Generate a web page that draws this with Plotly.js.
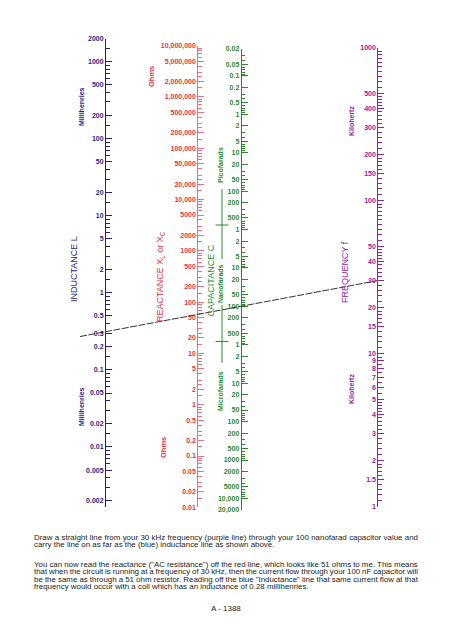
<!DOCTYPE html>
<html>
<head>
<meta charset="utf-8">
<script src="https://cdn.plot.ly/plotly-3.0.1.min.js"></script>
<style>
html,body{margin:0;padding:0;background:#fff;}
#wrap{position:relative;width:452px;height:640px;}
#chart{position:absolute;left:0;top:0;width:452px;height:640px;}
.para{position:absolute;left:34px;width:384px;font-family:Arial,"Liberation Sans",sans-serif;font-size:7.9px;line-height:7.5px;color:#222;}
.ln{display:block;white-space:nowrap;text-align:justify;text-align-last:justify;overflow:visible;}
.ln.last{text-align-last:left;}
.ln .jw{display:flex;justify-content:space-between;}
</style>
</head>
<body>
<div id="wrap"><div id="chart"></div></div>
<script>
// ---------------- DATA ----------------
const inductanceTicks = [2000,1000,500,200,100,50,20,10,5,2,1,0.5,0.3,0.2,0.1,0.05,0.02,0.01,0.005,0.002];
const inductanceLabels = ['2000','1000','500','200','100','50','20','10','5','2','1','0.5','0.3','0.2','0.1','0.05','0.02','0.01','0.005','0.002'];

const reactanceTicks = [1e7,5e6,2e6,1e6,5e5,2e5,1e5,5e4,2e4,1e4,5000,2000,1000,500,200,100,50,20,10,5,2,1,0.5,0.2,0.1,0.05,0.02,0.01];
const reactanceLabels = ['10,000,000','5,000,000','2,000,000','1,000,000','500,000','200,000','100,000','50,000','20,000','10,000','5000','2000','1000','500','200','100','50','20','10','5','2','1','0.5','0.2','0.1','0.05','0.02','0.01'];

// capacitance ticks expressed in picofarads
const capacitanceTicksPF = [0.02,0.05,0.1,0.2,0.5,1,2,5,10,20,50,100,200,500,
  1e3,2e3,5e3,1e4,2e4,5e4,1e5,2e5,5e5,
  1e6,2e6,5e6,1e7,2e7,5e7,1e8,2e8,5e8,1e9,2e9,5e9,1e10,2e10];
const capacitanceLabels = ['0.02','0.05','0.1','0.2','0.5','1','2','5','10','20','50','100','200','500',
  '1','2','5','10','20','50','100','200','500',
  '1','2','5','10','20','50','100','200','500','1000','2000','5000','10,000','20,000'];

const frequencyTicks = [1000,500,400,300,200,150,100,50,40,30,20,15,10,9,8,7,6,5,4,3,2,1.5,1];
const frequencyLabels = ['1000','500','400','300','200','150','100','50','40','30','20','15','10','9','8','7','6','5','4','3','2','1.5','1'];

const exampleFrequencyKHz = 30;
const exampleCapacitanceNF = 100;

const paragraph1 = [
  'Draw a straight line from your 30 kHz frequency (purple line) through your 100 nanofarad capacitor value and',
  'carry the line on as far as the (blue) inductance line as shown above.'
];
const paragraph2 = [
  'You can now read the reactance ("AC resistance") off the red line, which looks like 51 ohms to me.  This means',
  'that when the circuit is running at a frequency of 30 kHz, then the current flow through your 100 nF capacitor will',
  'be the same as through a 51 ohm resistor.  Reading off the blue "Inductance" line that same current flow at that',
  'frequency would occur with a coil which has an inductance of 0.28 millihenries.'
];
const pageLabel = 'A - 1388';

// ---------------- LAYOUT HELPERS ----------------
const W = 452, H = 640;
const FONT = 'Arial, "Liberation Sans", sans-serif';
const BLUE = '#1f1f86', RED = '#e5323f', RED_LINE = '#ee6f7a', GREEN = '#2c8a2c', PURPLE = '#93219a';

function scale(pxTop, vTop, pxBot, vBot, extTop, extBot) {
  const lt = Math.log10(vTop), lb = Math.log10(vBot);
  const ppd = (pxBot - pxTop) / (lt - lb);
  const rTop = lt + (extTop || 0) / ppd, rBot = lb - (extBot || 0) / ppd;
  return {domain: [1 - (pxBot + (extBot || 0)) / H, 1 - (pxTop - (extTop || 0)) / H], range: [rBot, rTop]};
}
function minorVals(mults, lo, hi, majors) {
  const out = [];
  for (let e = Math.floor(Math.log10(lo)) - 1; e <= Math.ceil(Math.log10(hi)); e++) {
    mults.forEach(m => {
      const v = +(m * Math.pow(10, e)).toPrecision(6);
      if (v >= lo && v <= hi && !majors.some(t => Math.abs(t - v) / t < 1e-6)) out.push(v);
    });
  }
  return out;
}
function makeAxis(sc, xpx, color, lineColor, tickvals, ticktext, minor) {
  return {
    type: 'log', domain: sc.domain, range: sc.range, anchor: 'free', position: xpx / W, side: 'left',
    showline: true, linecolor: lineColor, linewidth: 1,
    ticks: 'inside', ticklen: 6, tickwidth: 1, tickcolor: lineColor,
    tickmode: 'array', tickvals: tickvals, ticktext: ticktext,
    tickfont: {family: FONT, size: 7, color: color, weight: 'bold'},
    showgrid: false, zeroline: false, fixedrange: true,
    minor: {tickmode: 'array', tickvals: minor, ticks: 'inside', ticklen: 3.5, tickwidth: 1, tickcolor: lineColor, showgrid: false}
  };
}

const X_L = 105, X_R = 197.3, X_C = 240.7, X_F = 377.3;
const scL = scale(38.5, 2000, 500.7, 0.002, 0, 6.5);
const scR = scale(45.7, 1e7, 507.3, 0.01);
const scC = scale(49, 0.02, 510, 2e10);
const scF = scale(47.7, 1000, 506.7, 1);

const yL = makeAxis(scL, X_L, BLUE, BLUE, inductanceTicks, inductanceLabels,
  minorVals([1.5,2,3,4,5,6,7,8,9], 0.0015, 2000, inductanceTicks));
const yR = makeAxis(scR, X_R, RED, RED_LINE, reactanceTicks, reactanceLabels,
  minorVals([1.5,2,2.5,3,4,5,6,7,8,9], 0.01, 1e7, reactanceTicks));
const yC = makeAxis(scC, X_C, GREEN, GREEN, capacitanceTicksPF, capacitanceLabels,
  minorVals([2,3,4,5,6,7,8,9], 0.02, 2e10, capacitanceTicksPF));
const fMults = [];
for (let m = 1.1; m < 2; m += 0.1) fMults.push(+m.toFixed(2));
for (let m = 2.2; m < 5; m += 0.2) fMults.push(+m.toFixed(2));
for (let m = 5.5; m < 10; m += 0.5) fMults.push(+m.toFixed(2));
const yF = makeAxis(scF, X_F, PURPLE, PURPLE, frequencyTicks, frequencyLabels,
  minorVals(fMults, 1, 1000, frequencyTicks));

// value -> paper / paper -> value
function toPaper(sc, v) { return sc.domain[0] + (Math.log10(v) - sc.range[0]) / (sc.range[1] - sc.range[0]) * (sc.domain[1] - sc.domain[0]); }
function fromPaperLog(sc, p) { return sc.range[0] + (p - sc.domain[0]) / (sc.domain[1] - sc.domain[0]) * (sc.range[1] - sc.range[0]); }

// example line: through f on purple axis and C on green axis, extended past the inductance axis
const pC = toPaper(scC, exampleCapacitanceNF * 1000);
const logFatC = fromPaperLog(scF, pC);
const logF = Math.log10(exampleFrequencyKHz);
const xB = X_F / W, xA = X_C / W, xEnd = 80 / W;
const logEnd = logF + (logFatC - logF) * (xEnd - xB) / (xA - xB);

const traces = [
  {x: [-1], y: [1], yaxis: 'y', mode: 'markers', marker: {opacity: 0}, hoverinfo: 'skip', showlegend: false},
  {x: [-1], y: [1], yaxis: 'y2', mode: 'markers', marker: {opacity: 0}, hoverinfo: 'skip', showlegend: false},
  {x: [-1], y: [1], yaxis: 'y3', mode: 'markers', marker: {opacity: 0}, hoverinfo: 'skip', showlegend: false},
  {x: [xEnd, xB], y: [Math.pow(10, logEnd), exampleFrequencyKHz], yaxis: 'y4', mode: 'lines',
   line: {color: '#333333', width: 1, dash: '7px,1.5px'}, hoverinfo: 'skip', showlegend: false, cliponaxis: false}
];

function ann(text, xpx, ypx, color, size, bold, angle) {
  return {text: text, xref: 'paper', yref: 'paper', x: xpx / W, y: 1 - ypx / H, showarrow: false,
    textangle: angle || 0, xanchor: 'center', yanchor: 'middle',
    font: {family: FONT, size: size, color: color, weight: bold ? 'bold' : 'normal'}};
}
const annotations = [
  ann('INDUCTANCE L', 74, 269, BLUE, 9, false, -90),
  ann('Millihenries', 81, 107, BLUE, 7, true, -90),
  ann('Millihenries', 81, 407, BLUE, 7, true, -90),
  ann('REACTANCE X<sub>L</sub> or X<sub>C</sub>', 160, 277, RED, 9, false, -90),
  ann('Ohms', 151, 77, RED, 7.5, true, -90),
  ann('Ohms', 163, 448, RED, 7.5, true, -90),
  ann('CAPACITANCE C', 210.5, 281, GREEN, 9, false, -90),
  ann('Picofarads', 220, 165, GREEN, 7, true, -90),
  ann('Nanofarads', 220.5, 283.5, GREEN, 7, true, -90),
  ann('Microfarads', 220, 391, GREEN, 7, true, -90),
  ann('FREQUENCY f', 345, 272, PURPLE, 9, false, -90),
  ann('Kilohertz', 351, 121, PURPLE, 7, true, -90),
  ann('Kilohertz', 351, 389, PURPLE, 7, true, -90),
  ann(pageLabel, 226, 608, '#222222', 8, false, 0)
];

const gx = 222 / W;
const shapes = [
  {type: 'line', xref: 'paper', yref: 'paper', x0: gx, x1: gx, y0: 1 - 189 / H, y1: 1 - 259 / H, line: {color: GREEN, width: 1}},
  {type: 'line', xref: 'paper', yref: 'paper', x0: gx, x1: gx, y0: 1 - 305 / H, y1: 1 - 363 / H, line: {color: GREEN, width: 1}},
  {type: 'line', xref: 'paper', yref: 'paper', x0: 215.5 / W, x1: 228.5 / W, y0: 1 - 225 / H, y1: 1 - 225 / H, line: {color: GREEN, width: 1}},
  {type: 'line', xref: 'paper', yref: 'paper', x0: 215.5 / W, x1: 228.5 / W, y0: 1 - 341.5 / H, y1: 1 - 341.5 / H, line: {color: GREEN, width: 1}}
];

const layout = {
  width: W, height: H, margin: {l: 0, r: 0, t: 0, b: 0},
  paper_bgcolor: '#ffffff', plot_bgcolor: 'rgba(0,0,0,0)', showlegend: false,
  xaxis: {range: [0, 1], domain: [0, 1], visible: false, fixedrange: true},
  yaxis: yL, yaxis2: yR, yaxis3: yC, yaxis4: yF,
  annotations: annotations, shapes: shapes
};
Plotly.newPlot('chart', traces, layout, {staticPlot: true, displayModeBar: false});

// explanatory paragraphs below the nomogram (justified, as in the source page)
function addParagraph(lines, topPx) {
  const d = document.createElement('div');
  d.className = 'para';
  d.style.top = topPx + 'px';
  lines.forEach((t, i) => {
    const s = document.createElement('div');
    s.className = 'ln' + (i === lines.length - 1 ? ' last' : '');
    if (i < lines.length - 1) {
      const jw = document.createElement('span');
      jw.className = 'jw';
      t.split(/ +/).forEach(w => { const sp = document.createElement('span'); sp.textContent = w; jw.appendChild(sp); });
      s.appendChild(jw);
    } else {
      s.textContent = t;
    }
    d.appendChild(s);
  });
  document.getElementById('wrap').appendChild(d);
}
addParagraph(paragraph1, 533.6);
addParagraph(paragraph2, 560.5);
</script>
</body>
</html>
